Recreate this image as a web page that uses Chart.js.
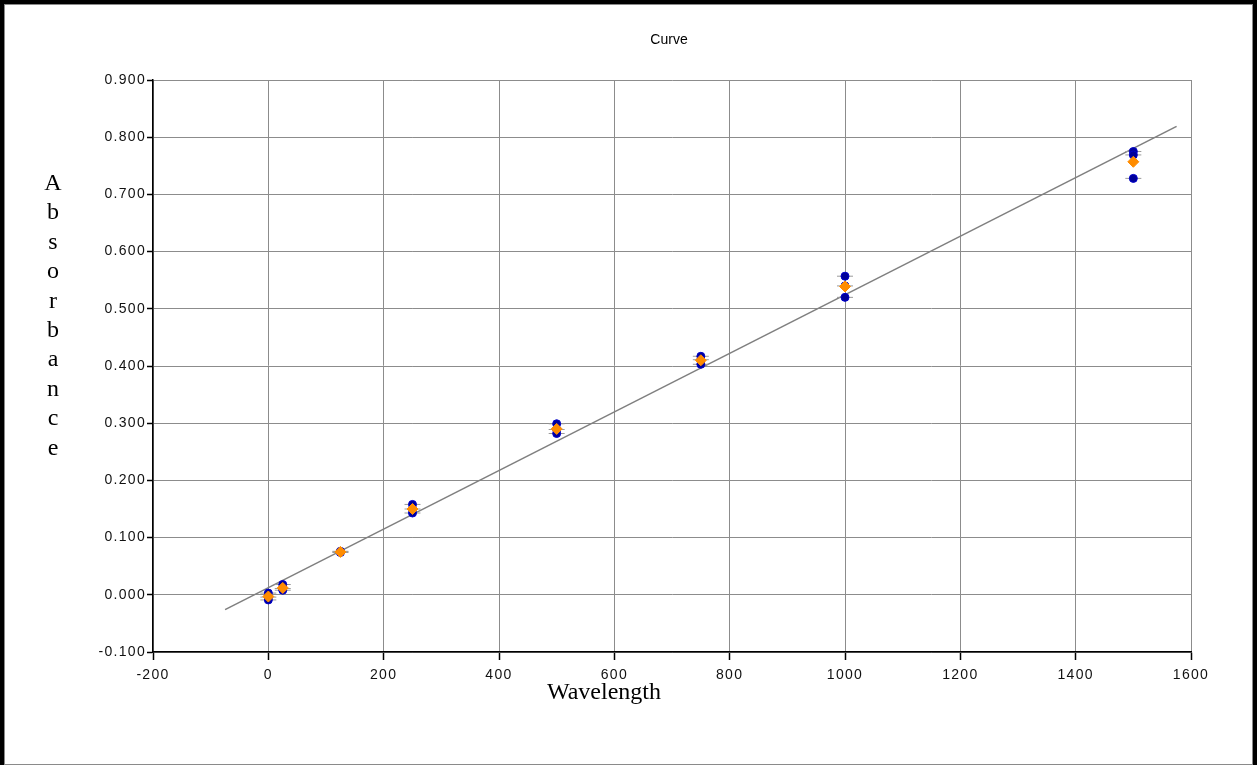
<!DOCTYPE html>
<html>
<head>
<meta charset="utf-8">
<title>Curve</title>
<script src="https://cdn.jsdelivr.net/npm/chart.js@4.4.1/dist/chart.umd.min.js"></script>
<style>
  html, body { margin: 0; padding: 0; background: #ffffff; }
  #wrap { width: 1257px; height: 765px; }
  canvas { display: block; }
</style>
</head>
<body>
<div id="wrap"><canvas id="curve" width="1257" height="765"></canvas></div>
<script>
// Standard concentrations (x) and measured absorbance replicates
const wavelengths = [0, 25, 125, 250, 500, 750, 1000, 1500];
const replicateA  = [0.003, 0.018, 0.076, 0.158, 0.299, 0.417, 0.557, 0.775];
const replicateB  = [-0.009, 0.008, 0.074, 0.143, 0.282, 0.403, 0.520, 0.769];
const replicateC  = [-0.004, 0.011, 0.075, 0.150, 0.289, 0.411, 0.540, 0.728];
const meanAbsorbance = [-0.003, 0.012, 0.075, 0.150, 0.290, 0.410, 0.539, 0.757];

// Linear fit, drawn across the extended x range
const trendX = [-75, 1575];
const trendY = [-0.026, 0.819];

// Axis ranges
const xRange = { min: -200, max: 1600, step: 200 };
const yRange = { min: -0.1, max: 0.9, step: 0.1 };

const titleText = 'Curve';
const xTitle = 'Wavelength';
const yTitle = 'Absorbance';

const toPoints = (xs, ys) => xs.map((x, i) => ({ x: x, y: ys[i] }));

const replicatePoints = [].concat(
  toPoints(wavelengths, replicateA),
  toPoints(wavelengths, replicateB),
  toPoints(wavelengths, replicateC)
);

const tickFont = { family: '"Liberation Sans", Arial, sans-serif', size: 14 };

// Background, frame, title and axis titles; wider tracking for tick labels
const decorations = {
  id: 'decorations',
  beforeDraw(chart) {
    const ctx = chart.ctx;
    ctx.save();
    ctx.fillStyle = '#ffffff';
    ctx.fillRect(0, 0, chart.width, chart.height);
    ctx.restore();
    if ('letterSpacing' in ctx) ctx.letterSpacing = '1.3px';
  },
  beforeDatasetsDraw(chart) {
    const ctx = chart.ctx;
    if ('letterSpacing' in ctx) ctx.letterSpacing = '0px';
  },
  afterDraw(chart) {
    const ctx = chart.ctx;
    ctx.save();
    if ('letterSpacing' in ctx) ctx.letterSpacing = '0px';
    ctx.fillStyle = '#000000';
    ctx.textAlign = 'center';
    ctx.textBaseline = 'middle';
    ctx.font = '14px "Liberation Sans", Arial, sans-serif';
    ctx.fillText(titleText, 669, 40);

    ctx.font = '24px "Liberation Serif", "Times New Roman", serif';
    ctx.textBaseline = 'alphabetic';
    ctx.fillText(xTitle, 604, 699);

    // vertical, one letter per line
    ctx.font = '24px "Liberation Serif", "Times New Roman", serif';
    const letters = yTitle.split('');
    letters.forEach((ch, i) => {
      ctx.fillText(ch, 53, 190 + i * 29.4);
    });

    // frame
    ctx.strokeStyle = '#8a8a8a';
    ctx.lineWidth = 1;
    ctx.strokeRect(4.5, 4.5, chart.width - 9, chart.height - 5);
    ctx.fillStyle = '#000000';
    ctx.fillRect(0, 0, chart.width, 4);
    ctx.fillRect(0, 0, 4, chart.height);
    ctx.fillRect(chart.width - 4, 0, 4, chart.height);
    ctx.restore();
  }
};

new Chart(document.getElementById('curve'), {
  type: 'scatter',
  data: {
    datasets: [
      {
        label: 'Mean',
        data: toPoints(wavelengths, meanAbsorbance),
        pointStyle: 'rectRot',
        pointRadius: 5.5,
        backgroundColor: '#ff8c00',
        borderColor: '#ff8c00',
        borderWidth: 1,
        order: 1
      },
      {
        label: 'Replicates',
        data: replicatePoints,
        pointStyle: 'circle',
        pointRadius: 4,
        backgroundColor: '#000099',
        borderColor: '#0000cc',
        borderWidth: 1,
        order: 2
      },
      {
        label: 'Caps',
        data: replicatePoints,
        pointStyle: 'line',
        pointRadius: 8,
        borderColor: '#9a9a9a',
        borderWidth: 1,
        order: 3
      },
      {
        type: 'line',
        label: 'Fit',
        data: toPoints(trendX, trendY),
        borderColor: '#7f7f7f',
        borderWidth: 1.5,
        pointRadius: 0,
        fill: false,
        order: 4
      }
    ]
  },
  options: {
    responsive: false,
    animation: false,
    events: [],
    layout: { padding: { left: 0, top: 80, right: 66, bottom: 73 } },
    plugins: {
      legend: { display: false },
      title: { display: false },
      tooltip: { enabled: false }
    },
    scales: {
      x: {
        type: 'linear',
        min: xRange.min,
        max: xRange.max,
        afterFit(scale) { scale.height = 40; },
        ticks: {
          stepSize: xRange.step,
          color: '#111111',
          font: tickFont,
          padding: 7,
          maxRotation: 0,
          callback: (v) => String(v)
        },
        grid: {
          color: '#8c8c8c',
          lineWidth: 1,
          tickLength: 8,
          tickColor: '#000000',
          tickWidth: 1.5
        },
        border: { display: true, color: '#000000', width: 1.5 }
      },
      y: {
        type: 'linear',
        min: yRange.min,
        max: yRange.max,
        afterFit(scale) { scale.width = 153; },
        ticks: {
          stepSize: yRange.step,
          color: '#111111',
          font: tickFont,
          padding: 1,
          callback: (v) => Number(v).toFixed(3)
        },
        grid: {
          color: '#8c8c8c',
          lineWidth: 1,
          tickLength: 6,
          tickColor: '#000000',
          tickWidth: 1.5
        },
        border: { display: true, color: '#000000', width: 1.5 }
      }
    }
  },
  plugins: [decorations]
});
</script>
</body>
</html>
